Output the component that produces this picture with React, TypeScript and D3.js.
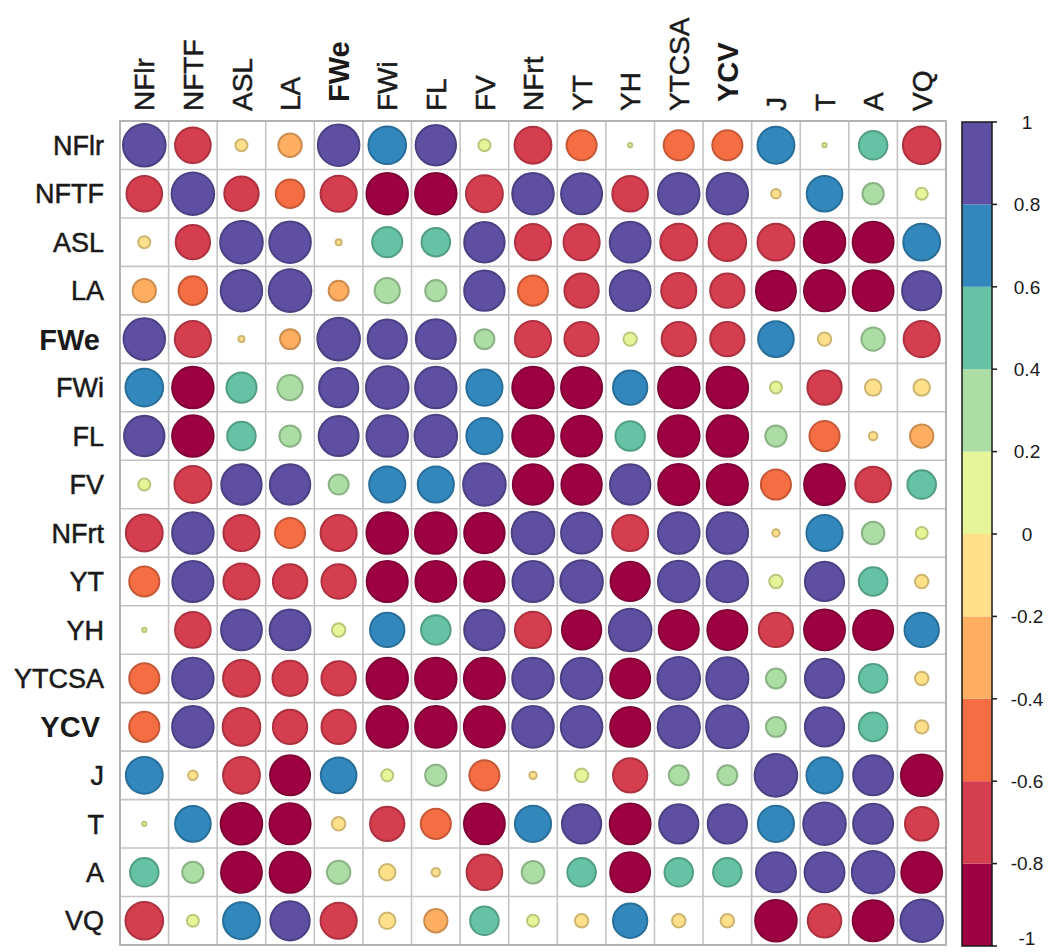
import React from "react";
import * as d3 from "d3";

// Trait names, in matrix order
const variables = [
  "NFlr", "NFTF", "ASL", "LA", "FWe", "FWi", "FL", "FV", "NFrt",
  "YT", "YH", "YTCSA", "YCV", "J", "T", "A", "VQ",
];

// Labels drawn in bold
const boldLabels = ["FWe", "YCV"];

// Pearson correlation coefficients, one row per trait
const rNFlr  = [1, -0.7, -0.08, -0.3, 0.95, 0.78, 0.9, 0.08, -0.75, -0.5, 0.01, -0.5, -0.5, 0.75, 0.01, 0.45, -0.78];
const rNFTF  = [-0.7, 1, -0.65, -0.45, -0.72, -0.95, -0.95, -0.75, 0.95, 0.93, -0.7, 0.95, 0.95, -0.05, 0.7, 0.25, 0.08];
const rASL   = [-0.08, -0.65, 1, 0.95, -0.02, 0.5, 0.45, 0.9, -0.72, -0.72, 0.92, -0.75, -0.78, -0.75, -0.95, -0.92, 0.75];
const rLA    = [-0.3, -0.45, 0.95, 1, -0.22, 0.35, 0.25, 0.9, -0.5, -0.65, 0.92, -0.68, -0.65, -0.88, -0.93, -0.92, 0.85];
const rFWe   = [0.95, -0.72, -0.02, -0.22, 1, 0.85, 0.88, 0.22, -0.72, -0.65, 0.1, -0.65, -0.65, 0.7, -0.1, 0.3, -0.72];
const rFWi   = [0.78, -0.95, 0.5, 0.35, 0.85, 1, 0.95, 0.72, -0.95, -0.93, 0.65, -0.95, -0.95, 0.08, -0.65, -0.15, -0.15];
const rFL    = [0.9, -0.95, 0.45, 0.25, 0.88, 0.95, 1, 0.72, -0.95, -0.92, 0.48, -0.95, -0.95, 0.25, -0.5, -0.04, -0.3];
const rFV    = [0.08, -0.75, 0.9, 0.9, 0.22, 0.72, 0.72, 1, -0.9, -0.9, 0.9, -0.93, -0.93, -0.5, -0.92, -0.7, 0.45];
const rNFrt  = [-0.75, 0.95, -0.72, -0.5, -0.72, -0.95, -0.95, -0.9, 1, 0.93, -0.72, 0.95, 0.95, -0.03, 0.72, 0.28, 0.08];
const rYT    = [-0.5, 0.93, -0.72, -0.65, -0.65, -0.93, -0.92, -0.9, 0.93, 1, -0.85, 0.95, 0.95, 0.1, 0.85, 0.45, -0.1];
const rYH    = [0.01, -0.7, 0.92, 0.92, 0.1, 0.65, 0.48, 0.9, -0.72, -0.85, 1, -0.88, -0.88, -0.65, -0.92, -0.88, 0.65];
const rYTCSA = [-0.5, 0.95, -0.75, -0.68, -0.65, -0.95, -0.95, -0.93, 0.95, 0.95, -0.88, 1, 0.98, 0.22, 0.85, 0.45, -0.1];
const rYCV   = [-0.5, 0.95, -0.78, -0.65, -0.65, -0.95, -0.95, -0.93, 0.95, 0.95, -0.88, 0.98, 1, 0.22, 0.85, 0.45, -0.1];
const rJ     = [0.75, -0.05, -0.75, -0.88, 0.7, 0.08, 0.25, -0.5, -0.03, 0.1, -0.65, 0.22, 0.22, 1, 0.72, 0.88, -0.95];
const rT     = [0.01, 0.7, -0.95, -0.93, -0.1, -0.65, -0.5, -0.92, 0.72, 0.85, -0.92, 0.85, 0.85, 0.72, 1, 0.88, -0.62];
const rA     = [0.45, 0.25, -0.92, -0.92, 0.3, -0.15, -0.04, -0.7, 0.28, 0.45, -0.88, 0.45, 0.45, 0.88, 0.88, 1, -0.92];
const rVQ    = [-0.78, 0.08, 0.75, 0.85, -0.72, -0.15, -0.3, 0.45, 0.08, -0.1, 0.65, -0.1, -0.1, -0.95, -0.62, -0.92, 1];

const corrRows = [rNFlr, rNFTF, rASL, rLA, rFWe, rFWi, rFL, rFV, rNFrt, rYT, rYH, rYTCSA, rYCV, rJ, rT, rA, rVQ];

// Colour legend ticks
const legendTicks = [1, 0.8, 0.6, 0.4, 0.2, 0, -0.2, -0.4, -0.6, -0.8, -1];
const legendTickLabels = ["1", "0.8", "0.6", "0.4", "0.2", "0", "-0.2", "-0.4", "-0.6", "-0.8", "-1"];

// Spectral palette in ten bins, from -1 to 1
const binEdges = [-0.8, -0.6, -0.4, -0.2, 0, 0.2, 0.4, 0.6, 0.8];
const binColors = [
  "#9E0142", "#D53E4F", "#F46D43", "#FDAE61", "#FEE08B",
  "#E6F598", "#ABDDA4", "#66C2A5", "#3288BD", "#5E4FA2",
];

const W = 1049;
const H = 952;
const FONT = "'Liberation Sans', Arial, Helvetica, sans-serif";

export default function App() {
  const x = d3.scaleBand<string>().domain(variables).range([120, 946]);
  const y = d3.scaleBand<string>().domain(variables).range([121, 945]);
  const color = d3.scaleThreshold<number, string>().domain(binEdges).range(binColors);
  const radius = d3.scaleSqrt().domain([0, 1]).range([0, 21.3]);

  const cells = corrRows.flatMap((row, i) =>
    row.map((v, j) => ({ r: variables[i], c: variables[j], v }))
  );

  // Legend bar
  const barX = 962;
  const barW = 30;
  const ly = d3.scaleLinear().domain([1, -1]).range([122, 946]);
  const bins = binColors.map((col, k) => ({
    lo: k === 0 ? -1 : binEdges[k - 1],
    hi: k === binColors.length - 1 ? 1 : binEdges[k],
    col,
  }));

  const gridLines = d3.range(variables.length + 1);
  const step = x.bandwidth();
  const stepY = y.bandwidth();

  return (
    <svg
      width={W}
      height={H}
      style={{ position: "absolute", left: 0, top: 0, background: "#fff" }}
      fontFamily={FONT}
    >
      <rect x={0} y={0} width={W} height={H} fill="#fff" />

      {/* grid */}
      <g stroke="#c4c4c4" strokeWidth={1.6}>
        {gridLines.map((k) => (
          <line key={"v" + k} x1={120 + k * step} x2={120 + k * step} y1={121} y2={945} />
        ))}
        {gridLines.map((k) => (
          <line key={"h" + k} x1={120} x2={946} y1={121 + k * stepY} y2={121 + k * stepY} />
        ))}
      </g>
      <rect x={120} y={121} width={826} height={824} fill="none" stroke="#b0b0b0" strokeWidth={1.8} />

      {/* circles */}
      <g>
        {cells.map((d) => {
          const fill = color(d.v);
          const stroke = d3.color(fill)!.darker(0.6).formatHex();
          return (
            <circle
              key={d.r + "-" + d.c}
              cx={x(d.c)! + step / 2}
              cy={y(d.r)! + stepY / 2}
              r={radius(Math.abs(d.v))}
              fill={fill}
              stroke={stroke}
              strokeWidth={2}
            />
          );
        })}
      </g>

      {/* row labels */}
      <g fill="#1a1a1a" stroke="#1a1a1a">
        {variables.map((name) => {
          const bold = boldLabels.includes(name);
          return (
            <text
              key={"row" + name}
              x={bold ? 100 : 104}
              y={y(name)! + stepY / 2}
              dy="0.36em"
              textAnchor="end"
              fontSize={bold ? 29 : 27}
              fontWeight={bold ? "bold" : "normal"}
              strokeWidth={bold ? 0 : 0.5}
            >
              {name}
            </text>
          );
        })}
      </g>

      {/* column labels */}
      <g fill="#1a1a1a" stroke="#1a1a1a">
        {variables.map((name) => {
          const bold = boldLabels.includes(name);
          const cx = x(name)! + step / 2;
          const y0 = bold ? 102 : 111;
          return (
            <text
              key={"col" + name}
              transform={`translate(${cx},${y0}) rotate(-90)`}
              dy="0.36em"
              textAnchor="start"
              fontSize={bold ? 29 : 28}
              fontWeight={bold ? "bold" : "normal"}
              strokeWidth={bold ? 0 : 0.5}
            >
              {name}
            </text>
          );
        })}
      </g>

      {/* colour legend */}
      <g>
        {bins.map((b) => (
          <rect
            key={"bin" + b.lo}
            x={barX}
            y={ly(b.hi)}
            width={barW}
            height={ly(b.lo) - ly(b.hi)}
            fill={b.col}
          />
        ))}
        <rect x={barX} y={ly(1)} width={barW} height={ly(-1) - ly(1)} fill="none" stroke="#1a1a1a" strokeWidth={1.5} />
        {legendTicks.map((t, k) => (
          <g key={"tick" + t}>
            <line x1={barX + barW} x2={barX + barW + 5} y1={ly(t)} y2={ly(t)} stroke="#1a1a1a" strokeWidth={1.5} />
            <text
              x={1027}
              y={Math.min(ly(t), 938)}
              dy="0.36em"
              textAnchor="middle"
              fontSize={19}
              fill="#1a1a1a"
            >
              {legendTickLabels[k]}
            </text>
          </g>
        ))}
      </g>
    </svg>
  );
}
